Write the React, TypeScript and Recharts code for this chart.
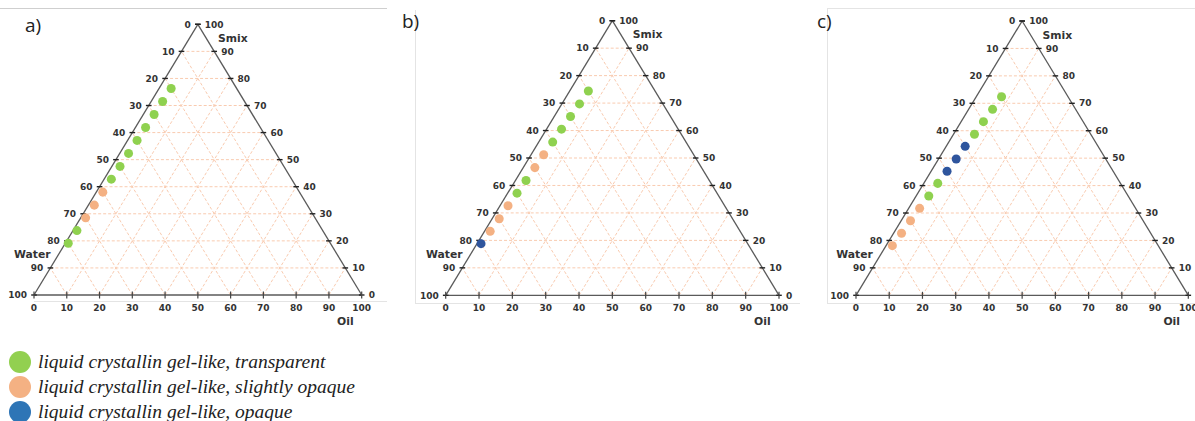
import React from 'react'
import {
  ScatterChart,
  Scatter,
  XAxis,
  YAxis,
  ReferenceLine,
  ReferenceDot,
} from 'recharts'

// water % of each mixture on the dilution line (same in every panel)
const waterA = [20, 25, 30, 35, 40, 45, 50, 55, 60, 65, 70, 75, 80]
const oilA = [3.7, 3.5, 3.3, 3.1, 2.9, 2.7, 2.5, 2.2, 2.0, 1.8, 1.5, 1.2, 0.9]
const phaseA = ['t', 't', 't', 't', 't', 't', 't', 't', 's', 's', 's', 't', 't']

const waterB = [20, 25, 30, 35, 40, 45, 50, 55, 60, 65, 70, 75, 80]
const oilB = [5.6, 5.3, 4.9, 4.5, 4.2, 3.8, 3.5, 3.2, 2.8, 2.4, 2.1, 1.7, 1.2]
const phaseB = ['t', 't', 't', 't', 't', 's', 's', 't', 't', 's', 's', 's', 'o']

const waterC = [20, 25, 30, 35, 40, 45, 50, 55, 60, 65, 70, 75, 80]
const oilC = [7.6, 7.2, 6.7, 6.3, 5.7, 5.3, 4.8, 4.2, 3.8, 3.3, 2.8, 2.4, 1.9]
const phaseC = ['t', 't', 't', 't', 'o', 'o', 'o', 't', 't', 's', 's', 's', 's']

const phaseKeys = ['t', 's', 'o']
const phaseLabels = [
  'liquid crystallin gel-like, transparent',
  'liquid crystallin gel-like, slightly opaque',
  'liquid crystallin gel-like, opaque',
]
const phaseColors = ['#8fd14f', '#f4b183', '#2f559d']
const legendColors = ['#92d050', '#f4b183', '#2e75b6']

const gridValues = [0, 10, 20, 30, 40, 50, 60, 70, 80, 90, 100]

// page layout of each panel (pixels)
const CHART_W = 395
const CHART_H = 330
const panels = [
  { tag: 'a)', water: waterA, oil: oilA, phase: phaseA, left: 0, x0: 34, x1: 361.7, y0: 295, y1: 24.3, tagX: 25, tagY: 12 },
  { tag: 'b)', water: waterB, oil: oilB, phase: phaseB, left: 400, x0: 445.7, x1: 779, y0: 295.3, y1: 20.7, tagX: 402, tagY: 8 },
  { tag: 'c)', water: waterC, oil: oilC, phase: phaseC, left: 800, x0: 856, x1: 1188.3, y0: 295.3, y1: 21, tagX: 817, tagY: 8 },
]

// ternary (water, oil, smix) -> plane
const toXY = (water: number, oil: number) => {
  const smix = 100 - water - oil
  return { x: oil + smix / 2, y: smix }
}

const FONT = '"DejaVu Sans", Verdana, sans-serif'
const GRID = '#f9cbb0'
const EDGE = '#5a5a5a'

const textShape =
  (text: string, dx: number, dy: number, anchor: string, size: number) =>
  (p: any) =>
    (
      <text
        x={p.cx + dx}
        y={p.cy + dy}
        textAnchor={anchor}
        fontSize={size}
        fontWeight="bold"
        fontFamily={FONT}
        fill="#333"
      >
        {text}
      </text>
    )

function Ternary({ panel }: { panel: (typeof panels)[number] }) {
  const sx = (panel.x1 - panel.x0) / 100
  const sy = (panel.y0 - panel.y1) / 100
  const xMin = (panel.left - panel.x0) / sx
  const xMax = xMin + CHART_W / sx
  const yMax = 100 + panel.y1 / sy
  const yMin = yMax - CHART_H / sy
  const tx = 2.8 / sx
  const ty = 3.5 / sy

  const series = phaseKeys.map((k) =>
    panel.water
      .map((w, i) => ({ ...toXY(w, panel.oil[i]), phase: panel.phase[i] }))
      .filter((d) => d.phase === k)
  )

  const inner = gridValues.slice(1, -1)

  return (
    <div style={{ position: 'absolute', left: panel.left, top: 0 }}>
      <ScatterChart
        width={CHART_W}
        height={CHART_H}
        margin={{ top: 0, right: 0, bottom: 0, left: 0 }}
      >
        <XAxis type="number" dataKey="x" domain={[xMin, xMax]} allowDataOverflow hide />
        <YAxis type="number" dataKey="y" domain={[yMin, yMax]} allowDataOverflow hide />

        {/* dashed grid, three directions */}
        {inner.map((k) => (
          <ReferenceLine
            key={'s' + k}
            segment={[{ x: k / 2, y: k }, { x: 100 - k / 2, y: k }]}
            stroke={GRID}
            strokeDasharray="3 2"
            ifOverflow="visible"
          />
        ))}
        {inner.map((k) => (
          <ReferenceLine
            key={'o' + k}
            segment={[{ x: k, y: 0 }, { x: 50 + k / 2, y: 100 - k }]}
            stroke={GRID}
            strokeDasharray="3 2"
            ifOverflow="visible"
          />
        ))}
        {inner.map((k) => (
          <ReferenceLine
            key={'w' + k}
            segment={[{ x: 100 - k, y: 0 }, { x: (100 - k) / 2, y: 100 - k }]}
            stroke={GRID}
            strokeDasharray="3 2"
            ifOverflow="visible"
          />
        ))}

        {/* triangle */}
        <ReferenceLine segment={[{ x: 0, y: 0 }, { x: 100, y: 0 }]} stroke={EDGE} strokeWidth={1.3} ifOverflow="visible" />
        <ReferenceLine segment={[{ x: 0, y: 0 }, { x: 50, y: 100 }]} stroke={EDGE} strokeWidth={1.3} ifOverflow="visible" />
        <ReferenceLine segment={[{ x: 100, y: 0 }, { x: 50, y: 100 }]} stroke={EDGE} strokeWidth={1.3} ifOverflow="visible" />

        {/* tick marks */}
        {gridValues.map((s) => (
          <ReferenceLine
            key={'lt' + s}
            segment={[{ x: s / 2 - tx, y: s }, { x: s / 2 + tx, y: s }]}
            stroke="#222"
            strokeWidth={1.4}
            ifOverflow="visible"
          />
        ))}
        {gridValues.map((s) => (
          <ReferenceLine
            key={'rt' + s}
            segment={[{ x: 100 - s / 2 - tx, y: s }, { x: 100 - s / 2 + tx, y: s }]}
            stroke="#222"
            strokeWidth={1.4}
            ifOverflow="visible"
          />
        ))}
        {gridValues.map((o) => (
          <ReferenceLine
            key={'bt' + o}
            segment={[{ x: o, y: -ty }, { x: o, y: ty }]}
            stroke="#444"
            strokeWidth={1.2}
            ifOverflow="visible"
          />
        ))}

        {/* tick labels */}
        {gridValues.map((s) => (
          <ReferenceDot
            key={'ll' + s}
            x={s / 2}
            y={s}
            r={0}
            ifOverflow="visible"
            shape={textShape(String(100 - s), -7, 3.2, 'end', 9)}
          />
        ))}
        {gridValues.map((s) => (
          <ReferenceDot
            key={'rl' + s}
            x={100 - s / 2}
            y={s}
            r={0}
            ifOverflow="visible"
            shape={textShape(String(s), 7, 3.2, 'start', 9)}
          />
        ))}
        {gridValues.map((o) => (
          <ReferenceDot
            key={'bl' + o}
            x={o}
            y={0}
            r={0}
            ifOverflow="visible"
            shape={textShape(String(o), 0, 15.5, 'middle', 9)}
          />
        ))}

        {/* axis titles */}
        <ReferenceDot x={52.5} y={95} r={0} ifOverflow="visible" shape={textShape('Smix', 12, 4, 'start', 10.8)} />
        <ReferenceDot x={7.5} y={15} r={0} ifOverflow="visible" shape={textShape('Water', -8, 4, 'end', 10.8)} />
        <ReferenceDot x={95} y={0} r={0} ifOverflow="visible" shape={textShape('Oil', 0, 29.5, 'middle', 10.8)} />

        {series.map((data, i) => (
          <Scatter
            key={phaseKeys[i]}
            data={data}
            fill={phaseColors[i]}
            isAnimationActive={false}
          />
        ))}
      </ScatterChart>
      <div
        style={{
          position: 'absolute',
          left: panel.tagX - panel.left,
          top: panel.tagY,
          fontFamily: '"Open Sans", "Liberation Sans", sans-serif',
          fontSize: 19,
          color: '#222',
        }}
      >
        {panel.tag}
      </div>
    </div>
  )
}

export default function App() {
  const line = (style: React.CSSProperties) => (
    <div style={{ position: 'absolute', background: '#e4e4e4', ...style }} />
  )
  return (
    <div
      style={{
        position: 'absolute',
        left: 0,
        top: 0,
        width: 1195,
        height: 421,
        background: '#fff',
        overflow: 'hidden',
      }}
    >
      {line({ left: 0, top: 8, width: 387, height: 1, background: '#cfcfcf' })}
      {line({ left: 34, top: 301, width: 353, height: 1 })}
      {line({ left: 415, top: 10, width: 1, height: 293 })}
      {line({ left: 415, top: 303, width: 385, height: 1 })}
      {line({ left: 827, top: 8, width: 1, height: 295 })}
      {line({ left: 827, top: 8, width: 368, height: 1 })}
      {line({ left: 827, top: 303, width: 368, height: 1 })}

      {panels.map((p) => (
        <Ternary key={p.tag} panel={p} />
      ))}

      <div style={{ position: 'absolute', left: 9, top: 349 }}>
        {phaseLabels.map((label, i) => (
          <div
            key={label}
            style={{ display: 'flex', alignItems: 'center', height: 25 }}
          >
            <span
              style={{
                display: 'inline-block',
                flex: 'none',
                width: 22,
                height: 22,
                borderRadius: '50%',
                background: legendColors[i],
                marginRight: 7,
              }}
            />
            <span
              style={{
                fontFamily: '"Liberation Serif", "Times New Roman", serif',
                fontStyle: 'italic',
                fontSize: 19.5,
                color: '#222',
                whiteSpace: 'nowrap',
              }}
            >
              {label}
            </span>
          </div>
        ))}
      </div>
    </div>
  )
}
